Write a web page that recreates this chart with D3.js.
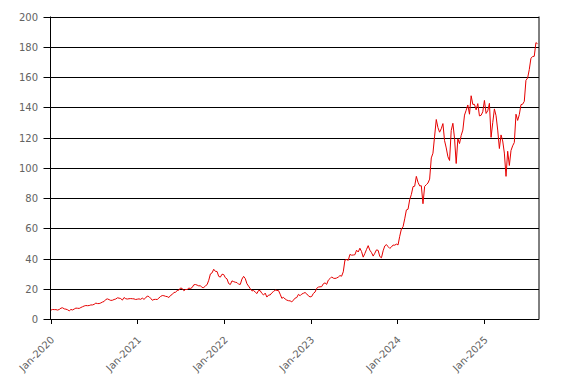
<!DOCTYPE html>
<html>
<head>
<meta charset="utf-8">
<script src="https://cdn.jsdelivr.net/npm/d3@7"></script>
<style>
  html, body { margin: 0; padding: 0; background: #fff; }
  svg { display: block; }
  .lbl { font-family: "DejaVu Sans", Verdana, sans-serif; font-size: 10px; fill: #636363; }
</style>
</head>
<body>
<svg id="chart" width="567" height="383"></svg>
<script>
// Weekly closes (Fridays), split-adjusted
const start2020 = "2020-01-03";
const values2020 = [5.9,6.3,6.2,6.2,5.9,6.3,7.2,7.4,6.7,6.5,6.1,5.4,6.3,6.0,6.6,7.2,7.1,7.0,7.6,8.1,8.6,8.9,8.8,8.9,9.3,9.3,9.7,10.5,10.2,10.2,10.6,11.2,11.6,12.9,13.3,12.8,12.3,12.4,12.9,13.2,14.0,13.8,13.5,12.5,14.2,13.4,13.2,13.4,13.5,13.4,13.3,12.9];
const start2021 = "2021-01-01";
const values2021 = [13.1,13.3,13.0,13.8,13.0,13.9,15.2,14.8,13.7,12.4,12.9,13.0,12.9,13.9,14.9,15.5,15.4,15.0,14.8,14.2,15.6,16.2,17.5,17.7,18.8,19.1,20.5,20.2,18.7,19.5,19.5,20.4,20.2,20.8,22.6,22.8,22.4,21.9,22.0,20.8,20.8,21.9,22.7,25.6,29.8,30.5,32.9,31.5,31.4,28.2,27.7,29.6,29.4];
const start2022 = "2022-01-07";
const values2022 = [27.3,26.5,23.4,22.8,25.2,24.7,24.3,24.1,23.0,22.9,26.4,28.2,26.7,23.3,21.7,20.1,18.6,18.8,17.8,16.8,18.9,18.7,16.9,15.9,17.1,14.5,15.8,15.9,17.3,18.2,19.1,18.9,18.8,16.4,13.7,14.3,13.2,12.5,12.1,12.0,11.3,12.5,13.8,14.2,16.3,15.4,16.5,17.0,17.5,16.6,15.3,14.6];
const start2023 = "2023-01-06";
const values2023 = [14.9,16.9,17.8,20.3,21.1,21.3,21.4,23.3,23.9,22.9,25.7,26.7,27.8,27.0,26.8,27.1,27.7,28.7,28.3,31.2,38.9,39.3,38.8,42.7,42.2,42.3,42.5,45.5,44.3,46.8,44.6,40.9,43.3,46.0,48.5,45.5,43.9,41.6,43.5,45.7,45.4,41.3,40.5,45.1,48.3,49.2,47.8,46.7,47.6,48.9,48.8,49.5];
const start2024 = "2024-01-05";
const values2024 = [49.0,54.7,59.5,61.0,66.2,72.1,72.6,78.9,82.3,87.5,87.8,94.3,90.4,88.0,88.1,76.2,87.7,88.8,89.9,92.5,106.5,109.6,120.9,131.9,126.6,123.5,125.8,129.2,117.9,113.1,107.3,104.8,124.6,129.4,119.4,102.8,119.1,116.0,121.4,124.9,134.8,138.0,141.5,135.4,147.6,141.9,141.9,138.3,142.4,134.3,134.7,137.0];
const start2025 = "2025-01-03";
const values2025 = [144.5,135.9,137.7,142.6,120.1,129.8,138.9,134.4,124.9,112.7,121.7,117.7,109.7,94.3,110.9,101.5,111.4,114.5,116.7,135.4,131.3,135.1,141.7,142.0,143.9,157.8,159.3,164.9,172.4,173.5,173.7,182.7,182.0];

const yTicks = [0,20,40,60,80,100,120,140,160,180,200];
const xTickYears = [2020,2021,2022,2023,2024,2025];
const xStart = "2020-01-01", xEnd = "2025-08-21";

const parse = d3.timeParse("%Y-%m-%d");
const blocks = [[start2020,values2020],[start2021,values2021],[start2022,values2022],[start2023,values2023],[start2024,values2024],[start2025,values2025]];
const data = [];
blocks.forEach(([s, vals]) => {
  const s0 = parse(s);
  vals.forEach((v, i) => data.push({date: d3.timeWeek.offset(s0, i), value: v}));
});

const svg = d3.select("#chart");
const margin = {left: 50.5, right: 28, top: 16.5, bottom: 64};
const W = 567, H = 383;
const x = d3.scaleTime().domain([parse(xStart), parse(xEnd)]).range([margin.left, W - margin.right]);
const y = d3.scaleLinear().domain([0, 200]).range([H - margin.bottom, margin.top]);

// horizontal gridlines (extending left as ticks)
svg.append("g").selectAll("line").data(yTicks).join("line")
  .attr("x1", margin.left - 7).attr("x2", W - margin.right)
  .attr("y1", d => Math.round(y(d)) + 0.5).attr("y2", d => Math.round(y(d)) + 0.5)
  .attr("stroke", "#000").attr("stroke-width", 1);

// y labels
svg.append("g").selectAll("text").data(yTicks).join("text")
  .attr("class", "lbl")
  .attr("x", 38).attr("y", d => Math.round(y(d)) + 0.5)
  .attr("dy", "0.35em").attr("text-anchor", "end")
  .text(d => d);

// left axis line and right border
svg.append("line").attr("x1", margin.left).attr("x2", margin.left)
  .attr("y1", y(200)).attr("y2", y(0) + 0.5).attr("stroke", "#000");
svg.append("line").attr("x1", W - margin.right).attr("x2", W - margin.right)
  .attr("y1", y(200)).attr("y2", y(0) + 0.5).attr("stroke", "#000");

// x ticks
const xTickDates = xTickYears.map(yr => new Date(yr, 0, 1));
svg.append("g").selectAll("line").data(xTickDates).join("line")
  .attr("x1", d => Math.round(x(d)) + 0.5).attr("x2", d => Math.round(x(d)) + 0.5)
  .attr("y1", Math.round(y(0)) + 0.5).attr("y2", Math.round(y(0)) + 5)
  .attr("stroke", "#000");

svg.append("g").selectAll("text").data(xTickDates).join("text")
  .attr("class", "lbl")
  .attr("text-anchor", "end")
  .attr("transform", d => `translate(${x(d) + 2},${y(0) + 19}) rotate(-45)`)
  .attr("dy", "0.35em")
  .text(d => d3.timeFormat("%b-%Y")(d));

// line
const line = d3.line().x(d => x(d.date)).y(d => y(d.value));
svg.append("path").datum(data)
  .attr("fill", "none").attr("stroke", "#e60000").attr("stroke-width", 1)
  .attr("stroke-linejoin", "round")
  .attr("d", line);
</script>
</body>
</html>
